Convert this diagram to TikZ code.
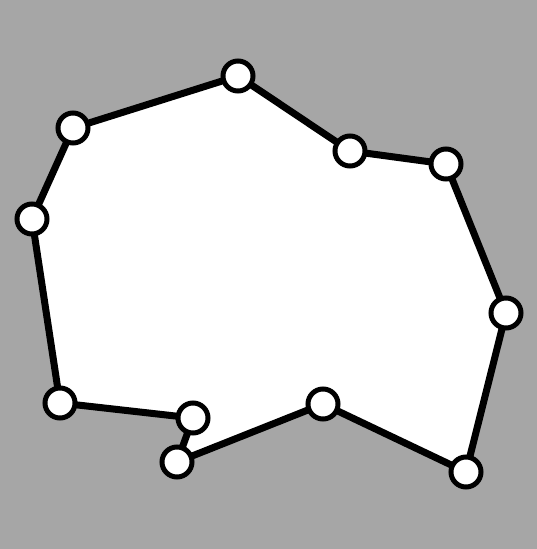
\documentclass[tikz,border=0pt]{standalone}
\begin{document}
\begin{tikzpicture}[x=1pt,y=-1pt,
  vtx/.style={circle,draw=black,fill=white,line width=5pt,minimum size=30pt,inner sep=0pt},
  edge/.style={draw=black,line width=7pt}]
\fill[gray!70] (0,0) rectangle (537,549);
\useasboundingbox (0,0) rectangle (537,549);
\coordinate (p1) at (238,76);
\coordinate (p2) at (350,151);
\coordinate (p3) at (446,164);
\coordinate (p4) at (506,313);
\coordinate (p5) at (466,472);
\coordinate (p6) at (323,404);
\coordinate (p7) at (177,462);
\coordinate (p8) at (193,418);
\coordinate (p9) at (60,403);
\coordinate (p10) at (32,219);
\coordinate (p11) at (73,128);
\filldraw[fill=white,edge,line join=round] (p1)--(p2)--(p3)--(p4)--(p5)--(p6)--(p7)--(p8)--(p9)--(p10)--(p11)--cycle;
\foreach \i in {1,...,11} \node[vtx] (n\i) at (p\i) {};
\end{tikzpicture}
\end{document}
